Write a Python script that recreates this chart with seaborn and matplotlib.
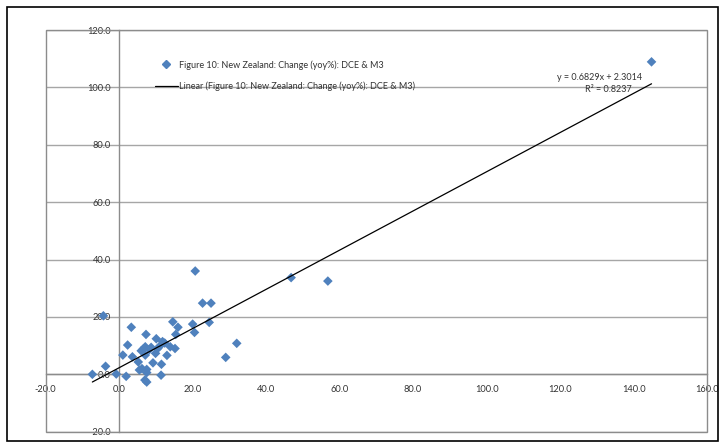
import matplotlib
matplotlib.use("Agg")
import matplotlib.pyplot as plt
import seaborn as sns
import pandas as pd
import numpy as np
from matplotlib.lines import Line2D
from matplotlib.patches import Rectangle

# Year-on-year % change: DCE (x) against M3 (y)
dce_change = [-7.3, -4.3, -3.7, -0.8, 1.0, 1.9, 2.3, 3.3, 3.6, 5.2,
              5.5, 6.2, 6.0, 6.6, 7.1, 7.3, 7.1, 7.5, 7.5, 7.0,
              7.5, 9.2, 8.7, 10.1, 9.9, 10.5, 11.5, 11.4, 11.8, 11.1,
              13.0, 13.9, 15.2, 14.6, 16.0, 15.4, 20.0, 20.5, 20.7, 22.7,
              25.0, 24.5, 29.0, 32.0, 46.8, 56.8, 144.9, 8.2, 12.4]
m3_change = [0.0, 20.4, 2.8, 0.1, 6.7, -0.7, 10.2, 16.4, 6.1, 4.3,
             1.5, 2.0, 8.2, 8.9, 9.6, 13.9, 6.7, 1.7, 0.6, -2.0,
             -2.7, 4.0, 9.4, 12.4, 7.3, 9.0, 3.5, -0.3, 11.4, 9.9,
             6.6, 9.6, 9.0, 18.3, 16.4, 13.9, 17.5, 14.6, 36.0, 24.8,
             24.8, 18.1, 5.9, 10.8, 33.7, 32.5, 108.9, 8.6, 10.9]

# Linear trend line coefficients and fit quality
slope = 0.6829
intercept = 2.3014
r_squared = 0.8237

series_label = "Figure 10: New Zealand: Change (yoy%): DCE & M3"
trend_label = "Linear (Figure 10: New Zealand: Change (yoy%): DCE & M3)"

x_ticks = [-20, 0, 20, 40, 60, 80, 100, 120, 140, 160]
y_ticks = [-20, 0, 20, 40, 60, 80, 100, 120]
x_tick_labels = ["-20.0", "0.0", "20.0", "40.0", "60.0", "80.0", "100.0", "120.0", "140.0", "160.0"]
y_tick_labels = ["-20.0", "0.0", "20.0", "40.0", "60.0", "80.0", "100.0", "120.0"]

sns.set_theme(style="white")
plt.rcParams['font.family'] = ['Lato', 'DejaVu Sans']

W, H = 724, 448
fig = plt.figure(figsize=(W / 100, H / 100), dpi=100)
left, right, top, bottom = 45.7, 707.0, 30.0, 431.7
ax = fig.add_axes([left / W, 1 - bottom / H, (right - left) / W, (bottom - top) / H])

blue = "#4F81BD"
grey = "#8C8C8C"
text_col = "#333333"

df = pd.DataFrame({"dce": dce_change, "m3": m3_change})
sns.scatterplot(data=df, x="dce", y="m3", marker="D", color=blue, s=24,
                edgecolor="none", linewidth=0, ax=ax, zorder=3, legend=False)

xs = np.array([min(dce_change), max(dce_change)])
ax.plot(xs, slope * xs + intercept, color="black", lw=0.9, zorder=4)

ax.set_xlim(x_ticks[0], x_ticks[-1])
ax.set_ylim(y_ticks[0], y_ticks[-1])
ax.set_xticks(x_ticks, x_tick_labels)
ax.set_yticks(y_ticks, y_tick_labels)
ax.set_xlabel("")
ax.set_ylabel("")

# axes cross at zero
for side in ("top", "right"):
    ax.spines[side].set_visible(False)
ax.spines["left"].set_position(("data", 0))
ax.spines["bottom"].set_position(("data", 0))
for side in ("left", "bottom"):
    ax.spines[side].set_color(grey)
    ax.spines[side].set_linewidth(1.0)

ax.yaxis.grid(True, color="#A6A6A6", lw=1.0)
ax.xaxis.grid(False)
ax.set_axisbelow(True)
ax.tick_params(axis="both", direction="out", length=3, width=0.8, color=grey,
               labelsize=6.7, labelcolor=text_col)
ax.tick_params(axis="x", pad=5)
ax.tick_params(axis="y", pad=3)

# plot area border
ax.add_patch(Rectangle((0, 0), 1, 1, transform=ax.transAxes, fill=False,
                       ec=grey, lw=1.0, clip_on=False, zorder=1))

handles = [
    Line2D([], [], marker="D", color=blue, linestyle="none", markersize=4.2),
    Line2D([], [], color="black", lw=0.9),
]
ax.legend(handles, [series_label, trend_label], loc="upper left",
          bbox_to_anchor=(155 / W, 1 - 60 / H), bbox_transform=fig.transFigure,
          frameon=False, fontsize=6.5, handlelength=2.5, handletextpad=0.2,
          labelspacing=1.35, borderpad=0, borderaxespad=0, labelcolor=text_col)

ax.text((600 - left) / (right - left), (bottom - 78) / (bottom - top),
        f"y = {slope:.4f}x + {intercept:.4f}", transform=ax.transAxes,
        ha="center", va="center", fontsize=6.5, color=text_col)
ax.text((608 - left) / (right - left), (bottom - 89) / (bottom - top),
        f"R² = {r_squared:.4f}", transform=ax.transAxes,
        ha="center", va="center", fontsize=6.5, color=text_col)

# chart area border
fig.patches.append(Rectangle((7 / W, 7 / H), 711 / W, 434 / H, transform=fig.transFigure,
                             fill=False, ec="black", lw=1.2))

fig.savefig("out.png", dpi=100)
